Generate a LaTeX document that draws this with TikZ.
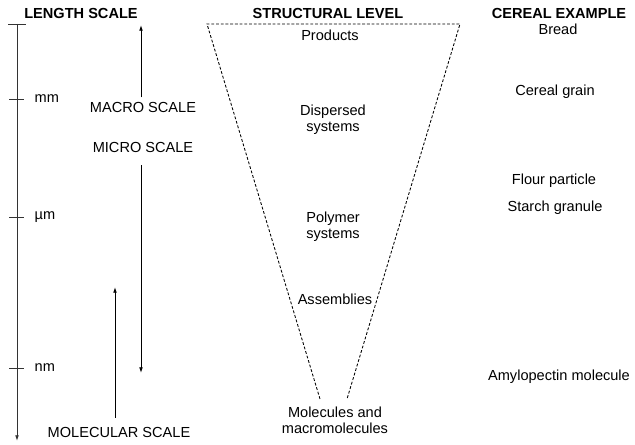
\documentclass[tikz,border=0pt]{standalone}
\usepackage{fontspec}
\setmainfont{Liberation Sans}
\usetikzlibrary{arrows.meta}

\begin{document}
\begin{tikzpicture}[x=0.7pt, y=-0.7pt,
    every node/.style={font=\fontsize{10.2}{11.4}\selectfont, inner sep=1pt},
    head/.style={font=\fontsize{10.2}{11.4}\selectfont\bfseries},
    level/.style={align=center},
    scalearrow/.style={-{Latex[length=4pt,width=2.6pt]}, line width=0.6pt},
    tri/.style={dash pattern=on 2pt off 1.3pt, line width=0.6pt}]
    \useasboundingbox (0,0) rectangle (635,445);
    \node[head] (lenhead) at (81,13) {LENGTH SCALE};
    \node[head] (strhead) at (328,13) {STRUCTURAL LEVEL};
    \node[head] (cerhead) at (559,13) {CEREAL EXAMPLE};
    \coordinate (axtop) at (17,24);
    \coordinate (axbot) at (17,441);
    \draw[scalearrow, black!80] (axtop) -- (axbot);
    \draw[line width=0.6pt, black!80] (8,24) -- (26,24);
    \foreach \y/\u in {99/mm, 217/µm, 368/nm} {
        \draw[line width=0.6pt, black!80] (9,\y) -- (24,\y);
        \node[anchor=west] (u\y) at (33,\y) {\u};
    }
    \node (macro) at (143,107) {MACRO SCALE};
    \node (micro) at (143,147) {MICRO SCALE};
    \node (molec) at (119,432) {MOLECULAR SCALE};
    \coordinate (macrotip) at (141,25);
    \coordinate (microtip) at (141,373);
    \coordinate (molectip) at (115,287);
    \draw[scalearrow, shorten <=2pt] (macro.north -| macrotip) -- (macrotip);
    \draw[scalearrow, shorten <=8pt] (micro.south -| microtip) -- (microtip);
    \draw[scalearrow, shorten <=5pt] (molec.north -| molectip) -- (molectip);
    \node[level] (products) at (330,35) {Products};
    \node[level] (dispersed) at (333,120) {Dispersed\\systems};
    \node[level] (polymer) at (333,227) {Polymer\\systems};
    \node[level] (assemb) at (335,299) {Assemblies};
    \node[level] (molecules) at (335,420) {Molecules and\\macromolecules};
    \coordinate (tl) at (207,24);
    \coordinate (tr) at (460,24);
    \coordinate (bl) at (320,399);
    \coordinate (br) at (347,399);
    \draw[tri] (bl) -- (tl) -- (tr) -- (br);
    \node (bread) at (558,29) {Bread};
    \node (grain) at (555,92) {Cereal grain};
    \node (flour) at (554,181) {Flour particle};
    \node (starch) at (555,208) {Starch granule};
    \node (amylo) at (559,377) {Amylopectin molecule};
\end{tikzpicture}
\end{document}
